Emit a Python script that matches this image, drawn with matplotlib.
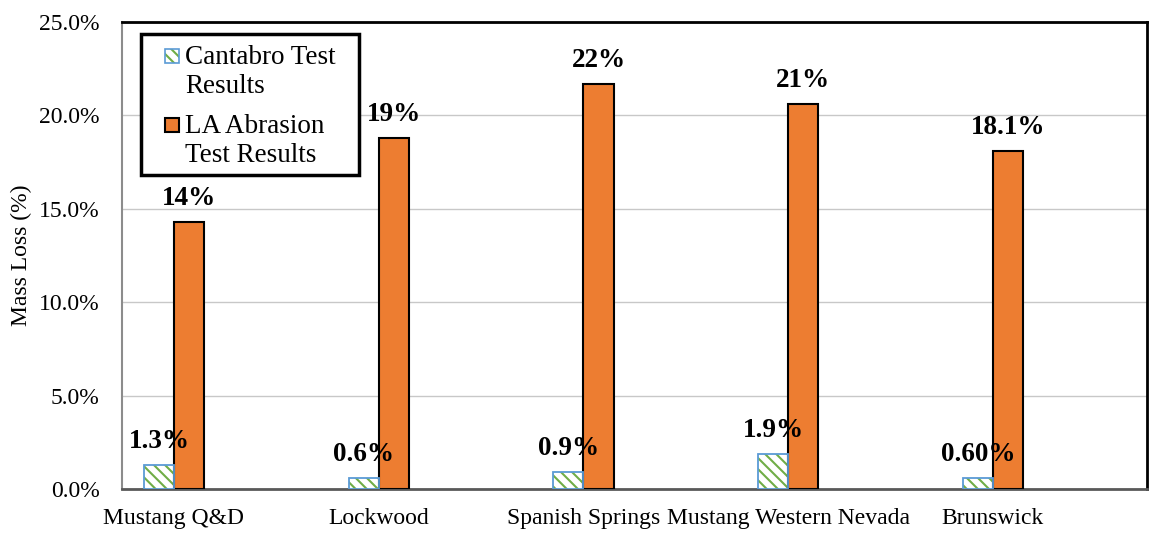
import matplotlib
matplotlib.use("Agg")
import matplotlib.pyplot as plt
import numpy as np
from matplotlib.patches import Rectangle
from matplotlib.ticker import FuncFormatter, MultipleLocator

sites = ["Mustang Q&D", "Lockwood", "Spanish Springs",
         "Mustang Western Nevada", "Brunswick"]
cantabro = [1.3, 0.6, 0.9, 1.9, 0.6]
la_abrasion = [14.3, 18.8, 21.7, 20.6, 18.1]
cantabro_labels = ["1.3%", "0.6%", "0.9%", "1.9%", "0.60%"]
la_labels = ["14%", "19%", "22%", "21%", "18.1%"]
legend_lines = [["Cantabro Test", "Results"], ["LA Abrasion", "Test Results"]]

plt.rcParams["font.family"] = ["Liberation Serif", "DejaVu Serif"]
plt.rcParams["hatch.linewidth"] = 1.5

green = "#70ad47"
blue_edge = "#5b9bd5"
orange = "#ed7d31"
HATCH = "\\\\\\"

W, H = 1152, 539
fig = plt.figure(figsize=(W / 100, H / 100), dpi=100)
ax = fig.add_axes([122 / W, 1 - 489 / H, (1147 - 122) / W, (489 - 22) / H])

x = np.arange(len(sites))
w = 0.147

# Cantabro bars: hatched fill, then the outline on top
ax.bar(x - w / 2, cantabro, width=w, color="white", edgecolor=green,
       hatch=HATCH, linewidth=0, zorder=3)
ax.bar(x - w / 2, cantabro, width=w, color="none", edgecolor=blue_edge,
       linewidth=1.3, zorder=4)
ax.bar(x + w / 2, la_abrasion, width=w, color=orange, edgecolor="black",
       linewidth=1.5, zorder=3)

for xi, v, t in zip(x, cantabro, cantabro_labels):
    ax.text(xi - w / 2, v + 0.9, t, ha="center", va="baseline",
            fontsize=19.5, fontweight="bold", zorder=5)
for xi, v, t in zip(x, la_abrasion, la_labels):
    ax.text(xi + w / 2, v + 0.9, t, ha="center", va="baseline",
            fontsize=19.5, fontweight="bold", zorder=5)

ax.set_xlim(-0.254, 4.753)
ax.set_ylim(0, 25)
ax.yaxis.set_major_locator(MultipleLocator(5))
ax.yaxis.set_major_formatter(FuncFormatter(lambda v, p: f"{v:.1f}%"))
ax.set_xticks(x)
ax.set_xticklabels(sites, fontsize=17)
ax.tick_params(axis="x", length=0, pad=14)
ax.tick_params(axis="y", length=0, labelsize=17, pad=16)
ax.set_ylabel("Mass Loss (%)", fontsize=17, labelpad=5)

ax.grid(axis="y", color="#c8c8c8", linewidth=1.0, zorder=0)
ax.set_axisbelow(True)

ax.spines["left"].set_color("#8c8c8c")
ax.spines["left"].set_linewidth(1.5)
ax.spines["bottom"].set_color("#595959")
ax.spines["bottom"].set_linewidth(2.0)
ax.spines["top"].set_color("black")
ax.spines["top"].set_linewidth(2.0)
ax.spines["right"].set_color("black")
ax.spines["right"].set_linewidth(2.0)


# Legend drawn in figure pixel coordinates
def fx(px):
    return px / W


def fy(py):
    return 1 - py / H


fig.patches.append(Rectangle((fx(141), fy(175)), fx(359) - fx(141), fy(34) - fy(175),
                             transform=fig.transFigure, facecolor="white",
                             edgecolor="black", linewidth=2.5, zorder=10))
marker_tops = [49, 118]
baselines = [[64, 93], [133, 162]]
for i, top in enumerate(marker_tops):
    if i == 0:
        fig.patches.append(Rectangle((fx(165), fy(top + 14)), fx(14), 14 / H,
                                     transform=fig.transFigure, facecolor="white",
                                     edgecolor=green, hatch=HATCH, linewidth=0,
                                     zorder=11))
        fig.patches.append(Rectangle((fx(165), fy(top + 14)), fx(14), 14 / H,
                                     transform=fig.transFigure, facecolor="none",
                                     edgecolor=blue_edge, linewidth=1.2, zorder=12))
    else:
        fig.patches.append(Rectangle((fx(165), fy(top + 14)), fx(14), 14 / H,
                                     transform=fig.transFigure, facecolor=orange,
                                     edgecolor="black", linewidth=1.5, zorder=11))
    for line, b in zip(legend_lines[i], baselines[i]):
        fig.text(fx(185), fy(b), line, fontsize=19.5, ha="left", va="baseline",
                 zorder=13)

fig.savefig("out.png", dpi=100)
